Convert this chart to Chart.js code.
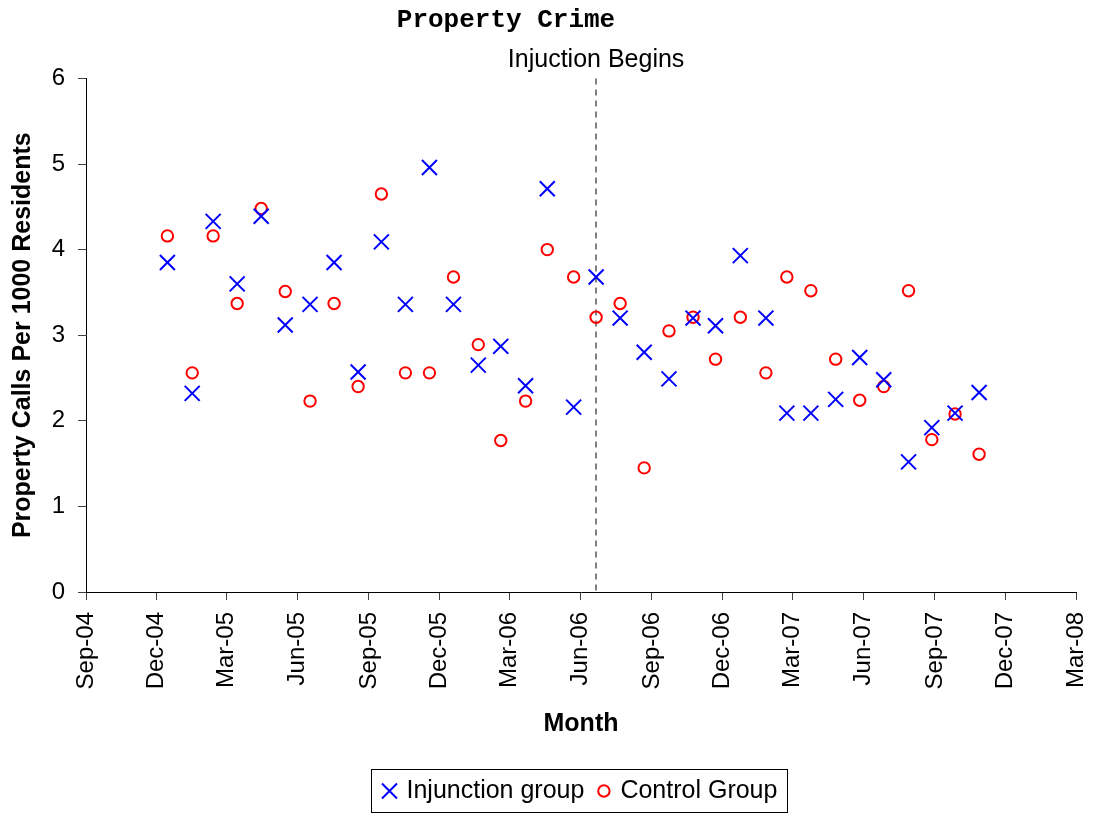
<!DOCTYPE html>
<html>
<head>
<meta charset="utf-8">
<title>Property Crime</title>
<script src="https://cdn.jsdelivr.net/npm/chart.js@4.4.0/dist/chart.umd.min.js"></script>
<style>
  html, body { margin: 0; padding: 0; background: #ffffff; }
  #wrap { width: 1100px; height: 817px; }
</style>
</head>
<body>
<div id="wrap"><canvas id="propertyCrime" width="1100" height="817"></canvas></div>
<script>
// x axis is in days since 1 Sep 2004, ticks every 3 months
const tickDays = [0, 91, 181, 273, 365, 456, 546, 638, 730, 821, 911, 1003, 1095, 1186, 1277];
const tickLabels = ['Sep-04', 'Dec-04', 'Mar-05', 'Jun-05', 'Sep-05', 'Dec-05', 'Mar-06', 'Jun-06',
                    'Sep-06', 'Dec-06', 'Mar-07', 'Jun-07', 'Sep-07', 'Dec-07', 'Mar-08'];

const obsDays = [105, 137, 164, 195, 226, 257, 289, 320, 351, 381, 412, 443, 474, 506, 535, 567, 595, 629,
                 658, 689, 720, 752, 783, 812, 844, 877, 904, 935, 967, 998, 1029, 1061, 1091, 1121, 1152];

const injunctionGroup = [3.85, 2.32, 4.33, 3.60, 4.39, 3.12, 3.36, 3.85, 2.57, 4.09, 3.36, 4.96, 3.36, 2.65,
                         2.87, 2.41, 4.71, 2.16, 3.68, 3.20, 2.80, 2.49, 3.20, 3.11, 3.93, 3.20, 2.09, 2.09,
                         2.25, 2.74, 2.48, 1.52, 1.92, 2.09, 2.33];
const controlGroup = [4.16, 2.56, 4.16, 3.37, 4.48, 3.51, 2.23, 3.37, 2.40, 4.65, 2.56, 2.56, 3.68, 2.89,
                      1.77, 2.23, 4.00, 3.68, 3.21, 3.37, 1.45, 3.05, 3.21, 2.72, 3.21, 2.56, 3.68, 3.52,
                      2.72, 2.24, 2.40, 3.52, 1.78, 2.08, 1.61];

const injunctionStartDay = 658;
const injunctionText = 'Injuction Begins';
const chartTitle = 'Property Crime';

const sans = '"Liberation Sans", Arial, sans-serif';

Chart.defaults.font.family = sans;
Chart.defaults.color = '#000000';

// dashed marker, title and the boxed legend
const extras = {
    id: 'extras',
    beforeDatasetsDraw(chart) {
        const {ctx, chartArea, scales} = chart;
        const px = Math.round(scales.x.getPixelForValue(injunctionStartDay));
        ctx.save();
        ctx.strokeStyle = '#808080';
        ctx.lineWidth = 2;
        ctx.setLineDash([6, 5]);
        ctx.beginPath();
        ctx.moveTo(px, chartArea.top);
        ctx.lineTo(px, chartArea.bottom);
        ctx.stroke();
        ctx.restore();
    },
    afterDraw(chart) {
        const {ctx, chartArea, scales} = chart;
        ctx.save();
        ctx.fillStyle = '#000000';
        ctx.textAlign = 'center';
        ctx.textBaseline = 'alphabetic';

        ctx.font = 'bold 26px "Liberation Mono", "Courier New", monospace';
        ctx.fillText(chartTitle, 506, 27);

        ctx.font = '25px ' + sans;
        ctx.fillText(injunctionText, scales.x.getPixelForValue(injunctionStartDay), 67);

        // legend
        const ds = chart.data.datasets;
        ctx.font = '25px ' + sans;
        const w1 = ctx.measureText(ds[0].label).width;
        const w2 = ctx.measureText(ds[1].label).width;
        const total = Math.round(10 + 16 + 9 + w1 + 13 + 13 + 10 + w2 + 10);
        const left = Math.round((chartArea.left + chartArea.right) / 2 - 2 - total / 2) + 0.5;
        const top = 769.5;
        const cy = 791;
        ctx.strokeStyle = '#000000';
        ctx.lineWidth = 1;
        ctx.strokeRect(left, top, total, 43);

        let cx = left + 10 + 8;
        ctx.strokeStyle = ds[0].borderColor;
        ctx.lineWidth = 2;
        ctx.beginPath();
        ctx.moveTo(cx - 7.5, cy - 7.5); ctx.lineTo(cx + 7.5, cy + 7.5);
        ctx.moveTo(cx + 7.5, cy - 7.5); ctx.lineTo(cx - 7.5, cy + 7.5);
        ctx.stroke();

        ctx.textAlign = 'left';
        ctx.textBaseline = 'middle';
        cx += 8 + 9;
        ctx.fillText(ds[0].label, cx, cy);

        cx += w1 + 13 + 6.5;
        ctx.strokeStyle = ds[1].borderColor;
        ctx.beginPath();
        ctx.arc(cx, cy, 5.7, 0, Math.PI * 2);
        ctx.stroke();

        cx += 6.5 + 10;
        ctx.fillText(ds[1].label, cx, cy);
        ctx.restore();
    }
};

const ctx = document.getElementById('propertyCrime').getContext('2d');
const myChart = new Chart(ctx, {
    type: 'scatter',
    data: {
        datasets: [
            {
                label: 'Injunction group',
                data: obsDays.map((d, i) => ({x: d, y: injunctionGroup[i]})),
                pointStyle: 'crossRot',
                pointRadius: 10.6,
                borderColor: '#0000FF',
                backgroundColor: '#0000FF',
                borderWidth: 2
            },
            {
                label: 'Control Group',
                data: obsDays.map((d, i) => ({x: d, y: controlGroup[i]})),
                pointStyle: 'circle',
                pointRadius: 5.7,
                borderColor: '#FF0000',
                backgroundColor: 'rgba(0,0,0,0)',
                borderWidth: 2
            }]
    },
    options: {
        responsive: false,
        animation: false,
        events: [],
        layout: {
            padding: {top: 78.4, right: 24, bottom: 60, left: 0}
        },
        plugins: {
            legend: {display: false},
            tooltip: {enabled: false}
        },
        scales: {
            x: {
                type: 'linear',
                min: 0,
                max: 1277,
                afterBuildTicks: (scale) => {
                    scale.ticks = tickDays.map(v => ({value: v}));
                },
                afterFit: (scale) => {
                    scale.height = 165;
                    scale.paddingLeft = 0;
                    scale.paddingRight = 0;
                },
                ticks: {
                    autoSkip: false,
                    minRotation: 90,
                    maxRotation: 90,
                    padding: 12,
                    font: {size: 24},
                    callback: (value) => tickLabels[tickDays.indexOf(value)]
                },
                grid: {
                    drawOnChartArea: false,
                    drawTicks: true,
                    tickLength: 8,
                    color: '#404040'
                },
                border: {color: '#000000', width: 1},
                title: {
                    display: true,
                    text: 'Month',
                    font: {size: 25, weight: 'bold'},
                    padding: {top: 0, bottom: 18}
                }
            },
            y: {
                min: 0,
                max: 6,
                afterFit: (scale) => { scale.width = 86; },
                ticks: {
                    stepSize: 1,
                    padding: 13,
                    font: {size: 24}
                },
                grid: {
                    drawOnChartArea: false,
                    drawTicks: true,
                    tickLength: 8,
                    color: '#404040'
                },
                border: {color: '#000000', width: 1},
                title: {
                    display: true,
                    text: 'Property Calls Per 1000 Residents',
                    font: {size: 25, weight: 'bold'},
                    padding: {top: 8, bottom: 0}
                }
            }
        }
    },
    plugins: [extras]
});
</script>
</body>
</html>
